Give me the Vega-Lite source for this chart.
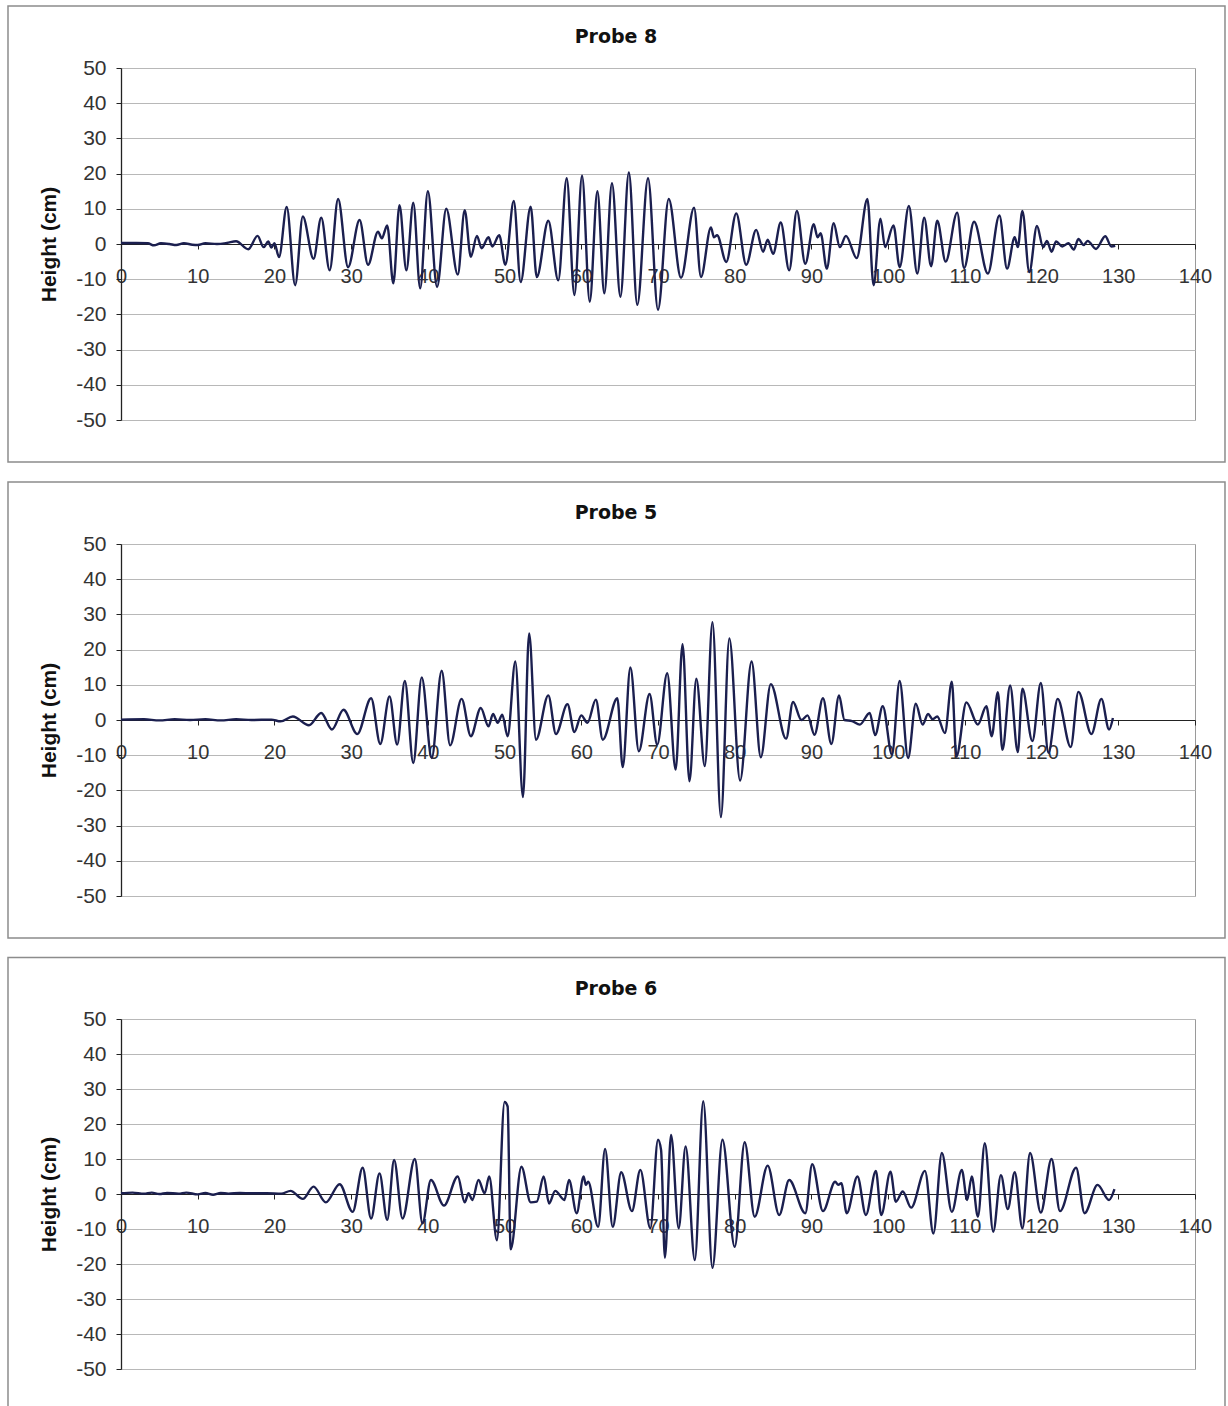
{
  "$schema": "https://vega.github.io/schema/vega-lite/v6.json",
  "background": "white",
  "padding": {"left": 6, "top": 4, "right": 0, "bottom": 0},
  "spacing": 16,
  "datasets": {
    "p8": [
      {"t":0,"h":0.3},{"t":2,"h":0.3},{"t":3.5,"h":0.2},{"t":4.3,"h":-0.4},{"t":5.2,"h":0.2},{"t":6.3,"h":0},{"t":7.2,"h":-0.3},{"t":8.2,"h":0.2},{"t":9.3,"h":-0.2},{"t":10,"h":-0.3},{"t":11,"h":0.2},{"t":12.5,"h":0},{"t":13.8,"h":0.3},{"t":15,"h":0.8},{"t":16.6,"h":-1.5},{"t":17.8,"h":2.3},{"t":18.6,"h":-0.9},{"t":19.2,"h":0.7},{"t":19.6,"h":-1},{"t":20.0,"h":0.2},{"t":20.6,"h":-3.7},{"t":21.6,"h":10.5},{"t":22.7,"h":-11.7},{"t":23.7,"h":7.8},{"t":25.1,"h":-4.2},{"t":26.1,"h":7.5},{"t":27.2,"h":-7.5},{"t":28.3,"h":12.8},{"t":29.6,"h":-6.6},{"t":31.1,"h":6.8},{"t":32.2,"h":-5.9},{"t":33.5,"h":3.5},{"t":34.0,"h":1.6},{"t":34.7,"h":5.3},{"t":35.5,"h":-11.2},{"t":36.3,"h":11.0},{"t":37.2,"h":-7.5},{"t":38.1,"h":11.7},{"t":39.0,"h":-12.6},{"t":40.0,"h":15.0},{"t":41.2,"h":-12.2},{"t":42.4,"h":10.0},{"t":43.9,"h":-8.7},{"t":44.8,"h":9.6},{"t":45.6,"h":-3.6},{"t":46.4,"h":2.3},{"t":47.0,"h":-1.2},{"t":47.9,"h":1.9},{"t":48.4,"h":-0.7},{"t":49.3,"h":2.5},{"t":50.1,"h":-5.9},{"t":51.2,"h":12.2},{"t":52.1,"h":-10.8},{"t":53.4,"h":10.6},{"t":54.2,"h":-9.4},{"t":55.7,"h":6.6},{"t":57.0,"h":-10.3},{"t":58.1,"h":18.7},{"t":59.1,"h":-14.5},{"t":60.1,"h":19.4},{"t":61.1,"h":-16.4},{"t":62.1,"h":15.0},{"t":63.0,"h":-14.0},{"t":64.0,"h":17.3},{"t":65.1,"h":-15.0},{"t":66.2,"h":20.3},{"t":67.3,"h":-17.3},{"t":68.7,"h":18.7},{"t":70.0,"h":-18.7},{"t":71.4,"h":12.8},{"t":73.0,"h":-9.6},{"t":74.7,"h":10.3},{"t":75.6,"h":-9.4},{"t":76.9,"h":4.7},{"t":77.3,"h":1.9},{"t":77.7,"h":2.5},{"t":78.9,"h":-5.1},{"t":80.2,"h":8.7},{"t":81.5,"h":-5.9},{"t":82.8,"h":4.0},{"t":83.7,"h":-2.2},{"t":84.3,"h":1.2},{"t":85.0,"h":-2.8},{"t":86.0,"h":6.1},{"t":87.1,"h":-7.5},{"t":88.1,"h":9.4},{"t":89.2,"h":-5.6},{"t":90.3,"h":5.6},{"t":90.8,"h":1.9},{"t":91.2,"h":3.1},{"t":92.0,"h":-7.0},{"t":92.9,"h":5.9},{"t":93.7,"h":-0.9},{"t":94.5,"h":2.3},{"t":95.9,"h":-4.0},{"t":97.3,"h":12.8},{"t":98.1,"h":-11.7},{"t":99.0,"h":7.2},{"t":99.6,"h":-0.9},{"t":100.7,"h":5.3},{"t":101.5,"h":-6.6},{"t":102.7,"h":10.8},{"t":103.8,"h":-8.4},{"t":104.7,"h":7.5},{"t":105.6,"h":-6.3},{"t":106.4,"h":6.6},{"t":107.5,"h":-5.0},{"t":109.0,"h":8.9},{"t":109.9,"h":-6.8},{"t":111.2,"h":6.3},{"t":113.0,"h":-8.4},{"t":114.5,"h":8.1},{"t":115.5,"h":-7.0},{"t":116.5,"h":1.9},{"t":116.9,"h":-0.9},{"t":117.5,"h":9.4},{"t":118.4,"h":-8.0},{"t":119.4,"h":5.1},{"t":120.2,"h":-0.9},{"t":120.7,"h":0.9},{"t":121.3,"h":-2.2},{"t":121.9,"h":0.7},{"t":122.7,"h":-0.7},{"t":123.5,"h":0.2},{"t":124.2,"h":-1.6},{"t":124.8,"h":1.4},{"t":125.5,"h":-0.3},{"t":126.0,"h":0.9},{"t":127.1,"h":-1.4},{"t":128.3,"h":2.2},{"t":129.1,"h":-0.7},{"t":129.6,"h":-0.5}
    ],
    "p5": [
      {"t":0,"h":0.1},{"t":3,"h":0.2},{"t":5,"h":-0.1},{"t":7,"h":0.2},{"t":9,"h":0},{"t":11,"h":0.2},{"t":13,"h":-0.1},{"t":15,"h":0.2},{"t":17,"h":0},{"t":19.6,"h":0.1},{"t":20.8,"h":-0.4},{"t":22.4,"h":1.0},{"t":24.5,"h":-1.5},{"t":26.1,"h":2.0},{"t":27.5,"h":-2.7},{"t":29.0,"h":2.9},{"t":30.8,"h":-4.0},{"t":32.6,"h":6.2},{"t":33.8,"h":-6.8},{"t":35.0,"h":6.7},{"t":36.0,"h":-7.0},{"t":37.0,"h":11.1},{"t":38.1,"h":-12.2},{"t":39.2,"h":12.1},{"t":40.5,"h":-10.8},{"t":41.8,"h":14.0},{"t":42.9,"h":-7.2},{"t":44.4,"h":6.0},{"t":45.6,"h":-4.6},{"t":46.9,"h":3.4},{"t":47.9,"h":-1.8},{"t":48.5,"h":1.7},{"t":49.1,"h":-0.8},{"t":49.7,"h":1.5},{"t":50.4,"h":-4.6},{"t":51.4,"h":16.6},{"t":52.4,"h":-21.9},{"t":53.2,"h":24.6},{"t":54.1,"h":-5.6},{"t":55.7,"h":7.0},{"t":56.7,"h":-4.0},{"t":58.2,"h":4.5},{"t":59.1,"h":-3.4},{"t":60.0,"h":1.3},{"t":60.8,"h":-0.8},{"t":61.9,"h":5.8},{"t":62.8,"h":-5.6},{"t":64.7,"h":6.2},{"t":65.4,"h":-13.4},{"t":66.4,"h":14.9},{"t":67.5,"h":-8.9},{"t":68.9,"h":7.4},{"t":69.9,"h":-7.0},{"t":71.2,"h":13.3},{"t":72.3,"h":-14.1},{"t":73.2,"h":21.5},{"t":74.1,"h":-17.4},{"t":75.0,"h":11.7},{"t":76.1,"h":-13.1},{"t":77.1,"h":27.8},{"t":78.2,"h":-27.6},{"t":79.3,"h":23.2},{"t":80.7,"h":-17.2},{"t":82.2,"h":16.6},{"t":83.4,"h":-10.6},{"t":84.7,"h":10.2},{"t":86.7,"h":-5.3},{"t":87.6,"h":5.1},{"t":88.7,"h":0},{"t":89.5,"h":1.3},{"t":90.4,"h":-4.2},{"t":91.5,"h":6.2},{"t":92.6,"h":-6.8},{"t":93.6,"h":7.0},{"t":94.3,"h":0},{"t":95.3,"h":-0.3},{"t":96.3,"h":-1.3},{"t":97.6,"h":2.0},{"t":98.3,"h":-4.3},{"t":99.3,"h":3.9},{"t":100.5,"h":-9.8},{"t":101.5,"h":11.1},{"t":102.6,"h":-10.8},{"t":103.6,"h":4.6},{"t":104.5,"h":-1.3},{"t":105.2,"h":1.7},{"t":105.8,"h":0.2},{"t":106.4,"h":1.0},{"t":107.4,"h":-3.7},{"t":108.3,"h":10.9},{"t":108.9,"h":-10.4},{"t":110.2,"h":5.0},{"t":111.7,"h":-1.3},{"t":112.8,"h":3.9},{"t":113.5,"h":-4.6},{"t":114.3,"h":7.9},{"t":114.9,"h":-8.5},{"t":115.9,"h":9.8},{"t":116.9,"h":-9.1},{"t":117.5,"h":8.9},{"t":118.8,"h":-6.0},{"t":119.9,"h":10.5},{"t":120.9,"h":-9.3},{"t":122.1,"h":6.0},{"t":123.8,"h":-7.7},{"t":124.8,"h":8.0},{"t":126.5,"h":-4.0},{"t":127.8,"h":6.0},{"t":128.8,"h":-2.7},{"t":129.3,"h":0.6}
    ],
    "p6": [
      {"t":0,"h":0.2},{"t":1.5,"h":0.4},{"t":3,"h":0.1},{"t":4,"h":0.4},{"t":5,"h":0},{"t":6,"h":0.3},{"t":7.5,"h":0.1},{"t":8.5,"h":0.4},{"t":10,"h":-0.1},{"t":11,"h":0.3},{"t":12,"h":-0.2},{"t":13,"h":0.3},{"t":14,"h":0.1},{"t":15.5,"h":0.3},{"t":17,"h":0.2},{"t":19,"h":0.2},{"t":20.9,"h":0.1},{"t":22.1,"h":0.9},{"t":23.7,"h":-1.4},{"t":25.1,"h":2.1},{"t":26.7,"h":-2.4},{"t":28.5,"h":2.8},{"t":30.2,"h":-5.1},{"t":31.5,"h":7.5},{"t":32.6,"h":-7.0},{"t":33.7,"h":5.9},{"t":34.7,"h":-7.4},{"t":35.6,"h":9.7},{"t":36.7,"h":-7.0},{"t":38.3,"h":10.0},{"t":39.3,"h":-8.4},{"t":40.4,"h":4.0},{"t":42.1,"h":-3.3},{"t":43.9,"h":5.0},{"t":44.8,"h":-2.4},{"t":45.3,"h":0.2},{"t":45.8,"h":-1.7},{"t":46.6,"h":4.0},{"t":47.4,"h":0.2},{"t":48.0,"h":5.0},{"t":49.0,"h":-13.2},{"t":50.0,"h":26.3},{"t":50.4,"h":25.0},{"t":50.8,"h":-15.8},{"t":52.2,"h":7.8},{"t":53.4,"h":-2.4},{"t":54.2,"h":-2.2},{"t":55.1,"h":5.0},{"t":55.8,"h":-2.7},{"t":56.6,"h":0.9},{"t":57.8,"h":-1.7},{"t":58.4,"h":4.0},{"t":59.4,"h":-5.5},{"t":60.3,"h":5.0},{"t":60.6,"h":2.6},{"t":60.9,"h":3.5},{"t":62.2,"h":-9.4},{"t":63.1,"h":12.9},{"t":64.1,"h":-9.4},{"t":65.2,"h":6.2},{"t":66.6,"h":-4.9},{"t":67.7,"h":6.9},{"t":69.0,"h":-9.8},{"t":70.0,"h":15.5},{"t":70.4,"h":12.6},{"t":70.9,"h":-18.2},{"t":71.7,"h":16.9},{"t":72.7,"h":-9.8},{"t":73.6,"h":13.6},{"t":74.8,"h":-18.9},{"t":75.9,"h":26.5},{"t":77.1,"h":-21.1},{"t":78.4,"h":15.5},{"t":80.0,"h":-15.1},{"t":81.3,"h":14.8},{"t":82.6,"h":-6.5},{"t":84.3,"h":8.1},{"t":85.8,"h":-6.0},{"t":87.1,"h":4.0},{"t":89.2,"h":-5.5},{"t":90.1,"h":8.5},{"t":91.5,"h":-4.9},{"t":93.1,"h":3.5},{"t":93.5,"h":2.6},{"t":93.9,"h":3.1},{"t":94.6,"h":-5.5},{"t":96.0,"h":5.0},{"t":97.1,"h":-6.0},{"t":98.4,"h":6.6},{"t":99.1,"h":-6.0},{"t":100.3,"h":6.4},{"t":101.0,"h":-2.2},{"t":101.9,"h":0.7},{"t":103.0,"h":-3.9},{"t":104.8,"h":6.6},{"t":105.9,"h":-11.3},{"t":107.0,"h":11.7},{"t":108.3,"h":-5.1},{"t":109.6,"h":6.9},{"t":110.3,"h":-1.7},{"t":110.9,"h":5.0},{"t":111.7,"h":-6.5},{"t":112.6,"h":14.5},{"t":113.7,"h":-10.8},{"t":114.7,"h":5.4},{"t":115.6,"h":-4.3},{"t":116.5,"h":6.2},{"t":117.5,"h":-9.8},{"t":118.5,"h":11.7},{"t":119.9,"h":-5.3},{"t":121.3,"h":10.0},{"t":122.4,"h":-4.9},{"t":124.5,"h":7.5},{"t":125.6,"h":-5.5},{"t":127.3,"h":2.6},{"t":128.8,"h":-1.7},{"t":129.5,"h":1.4}
    ]
  },
  "vconcat": [
    {
      "width": 1074, "height": 352,
      "title": {"text": "Probe 8", "offset": -42, "dx": -42},
      "layer": [
        {
          "data": {"values": [{}]},
          "mark": {"type": "rect", "fill": "transparent", "stroke": "#8c8c8c", "strokeWidth": 1.5, "clip": false},
          "encoding": {
            "x": {"datum": -14.73, "type": "quantitative", "scale": {"domain": [0, 140], "nice": false, "zero": false},
                  "axis": {"values": [0, 10, 20, 30, 40, 50, 60, 70, 80, 90, 100, 110, 120, 130, 140], "title": null}},
            "x2": {"datum": 143.91},
            "y": {"datum": 67.6, "type": "quantitative", "scale": {"domain": [-50, 50], "nice": false, "zero": false},
                  "axis": {"values": [-50, -40, -30, -20, -10, 0, 10, 20, 30, 40, 50], "title": "Height (cm)"}},
            "y2": {"datum": -61.9}
          }
        },
        {
          "data": {"name": "p8"},
          "mark": {"type": "line", "interpolate": "monotone", "color": "#1b1f4f", "strokeWidth": 2.4},
          "encoding": {
            "x": {"field": "t", "type": "quantitative", "axis": {"values": [0, 10, 20, 30, 40, 50, 60, 70, 80, 90, 100, 110, 120, 130, 140], "title": null}},
            "y": {"field": "h", "type": "quantitative", "axis": {"values": [-50, -40, -30, -20, -10, 0, 10, 20, 30, 40, 50], "title": "Height (cm)"}}
          }
        }
      ]
    },
    {
      "width": 1074, "height": 352,
      "title": {"text": "Probe 5", "offset": -42, "dx": -42},
      "layer": [
        {
          "data": {"values": [{}]},
          "mark": {"type": "rect", "fill": "transparent", "stroke": "#8c8c8c", "strokeWidth": 1.5, "clip": false},
          "encoding": {
            "x": {"datum": -14.73, "type": "quantitative", "scale": {"domain": [0, 140], "nice": false, "zero": false},
                  "axis": {"values": [0, 10, 20, 30, 40, 50, 60, 70, 80, 90, 100, 110, 120, 130, 140], "title": null}},
            "x2": {"datum": 143.91},
            "y": {"datum": 67.6, "type": "quantitative", "scale": {"domain": [-50, 50], "nice": false, "zero": false},
                  "axis": {"values": [-50, -40, -30, -20, -10, 0, 10, 20, 30, 40, 50], "title": "Height (cm)"}},
            "y2": {"datum": -61.9}
          }
        },
        {
          "data": {"name": "p5"},
          "mark": {"type": "line", "interpolate": "monotone", "color": "#1b1f4f", "strokeWidth": 2.4},
          "encoding": {
            "x": {"field": "t", "type": "quantitative", "axis": {"values": [0, 10, 20, 30, 40, 50, 60, 70, 80, 90, 100, 110, 120, 130, 140], "title": null}},
            "y": {"field": "h", "type": "quantitative", "axis": {"values": [-50, -40, -30, -20, -10, 0, 10, 20, 30, 40, 50], "title": "Height (cm)"}}
          }
        }
      ]
    },
    {
      "width": 1074, "height": 350,
      "title": {"text": "Probe 6", "offset": -42, "dx": -42},
      "layer": [
        {
          "data": {"values": [{}]},
          "mark": {"type": "rect", "fill": "transparent", "stroke": "#8c8c8c", "strokeWidth": 1.5, "clip": false},
          "encoding": {
            "x": {"datum": -14.73, "type": "quantitative", "scale": {"domain": [0, 140], "nice": false, "zero": false},
                  "axis": {"values": [0, 10, 20, 30, 40, 50, 60, 70, 80, 90, 100, 110, 120, 130, 140], "title": null, "offset": -175}},
            "x2": {"datum": 143.91},
            "y": {"datum": 67.6, "type": "quantitative", "scale": {"domain": [-50, 50], "nice": false, "zero": false},
                  "axis": {"values": [-50, -40, -30, -20, -10, 0, 10, 20, 30, 40, 50], "title": "Height (cm)"}},
            "y2": {"datum": -61.9}
          }
        },
        {
          "data": {"name": "p6"},
          "mark": {"type": "line", "interpolate": "monotone", "color": "#1b1f4f", "strokeWidth": 2.4},
          "encoding": {
            "x": {"field": "t", "type": "quantitative", "axis": {"values": [0, 10, 20, 30, 40, 50, 60, 70, 80, 90, 100, 110, 120, 130, 140], "title": null, "offset": -175}},
            "y": {"field": "h", "type": "quantitative", "axis": {"values": [-50, -40, -30, -20, -10, 0, 10, 20, 30, 40, 50], "title": "Height (cm)"}}
          }
        }
      ]
    }
  ],
  "config": {
    "font": "Liberation Sans",
    "view": {"stroke": "#9a9a9a", "strokeWidth": 1},
    "title": {"font": "DejaVu Sans", "fontSize": 19, "fontWeight": "bold", "color": "#111111", "anchor": "middle"},
    "axisX": {
      "offset": -176, "grid": false,
      "domainColor": "#222222", "domainWidth": 1.2, "tickColor": "#222222", "tickSize": 5,
      "labelFontSize": 20, "labelColor": "#333333", "labelPadding": 17, "labelFlush": false, "labelOverlap": false,
      "labelExpr": "'' + datum.value"
    },
    "axisY": {
      "grid": true, "gridColor": "#b8b8b8", "gridWidth": 1,
      "domainColor": "#222222", "domainWidth": 1.3, "tickColor": "#222222", "tickSize": 5,
      "labelFontSize": 21, "labelColor": "#333333", "labelPadding": 10, "labelFlush": false, "labelOverlap": false,
      "labelExpr": "'' + datum.value",
      "titleFontSize": 21, "titleFontWeight": "bold", "titleColor": "#111111", "titlePadding": 16, "titleFont": "Liberation Sans"
    }
  }
}
